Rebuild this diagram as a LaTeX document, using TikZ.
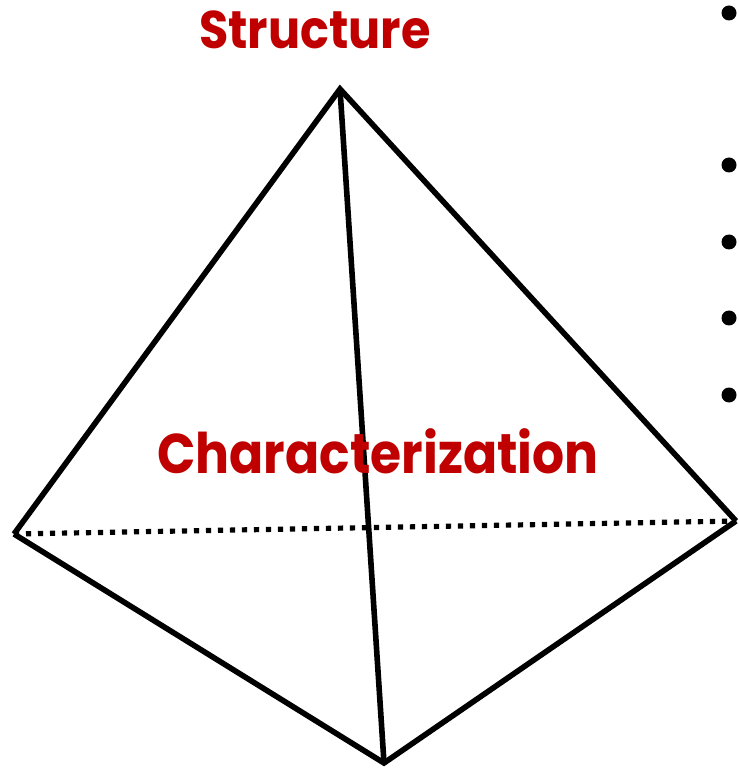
\documentclass[tikz,border=0pt]{standalone}
\usepackage{fontspec}
\setmainfont{Poppins}
\newfontfamily\labelfont[FakeStretch=0.9]{Poppins}
\definecolor{labelred}{RGB}{192,0,0}

\begin{document}
\begin{tikzpicture}[x=0.5pt, y=-0.5pt]

\tikzset{
  edge/.style={black, line width=2.8pt, line join=miter},
  hidden/.style={black, line width=2.6pt, dash pattern=on 2.6pt off 3.4pt},
  label/.style={text=labelred, inner sep=0pt, font=\labelfont\bfseries\fontsize{28}{30}\selectfont}
}

% fix the page size
\useasboundingbox[fill=white] (0,0) rectangle (738,769);

%vertices
\coordinate (top) at (340, 89);
\coordinate (left) at (14, 534);
\coordinate (right) at (736, 521);
\coordinate (bottom) at (384, 763);

%hidden back edge
\draw[hidden] (left) -- (right);

%visible edges
\draw[edge] (left) -- (top) -- (right);
\draw[edge] (top) -- (bottom);
\draw[edge] (left) -- (bottom) -- (right);

%labels
\node[label, font=\labelfont\bfseries\fontsize{26.5}{28}\selectfont] (struct) at (315, 30) {Structure};
\node[label] (charac) at (378, 451) {Characterization};

%bullets at the right edge
\foreach \y in {13, 165, 242, 318, 395} {
  \fill[black] (729, \y) circle (7.5);
}

\end{tikzpicture}
\end{document}
